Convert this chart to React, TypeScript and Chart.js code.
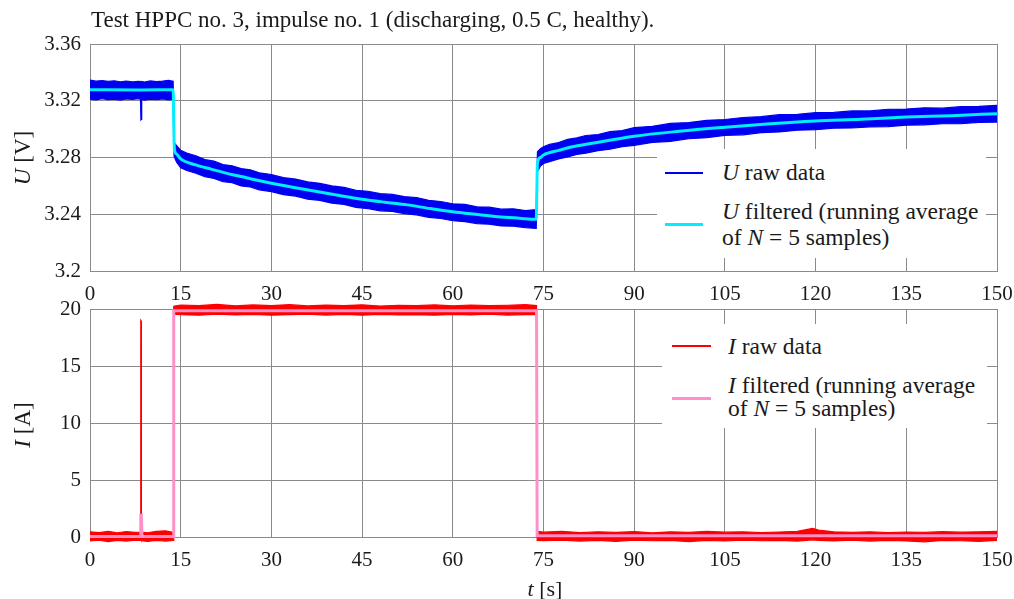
import React, { useEffect, useRef } from "react";
import { Chart, registerables } from "chart.js";

Chart.register(...registerables);

const FONT = "'Liberation Serif', 'Times New Roman', serif";
const TEXT_COLOR = "#1a1a1a";
const GRID_COLOR = "#8a8a8a";

const titleText = "Test HPPC no. 3, impulse no. 1 (discharging, 0.5 C, healthy).";

// shared time axis
const xTicks = [0, 15, 30, 45, 60, 75, 90, 105, 120, 135, 150];

// ---------- voltage (top) ----------
const uTicks = [3.2, 3.24, 3.28, 3.32, 3.36];
const uTickLabels = ["3.2", "3.24", "3.28", "3.32", "3.36"];

// raw voltage: upper / lower edge of the noisy band
const uRawT = [
  0, 1, 2, 3, 4, 5, 6, 7, 8, 8.35, 8.42, 8.48, 8.55, 9, 10, 11, 12, 13, 13.75,
  13.9, 14.3, 15, 16, 17.5, 19, 20.5, 22, 23.5, 25, 26.5, 28, 30, 32, 34, 36, 38, 40, 42, 44, 46, 48, 50, 52, 54, 56, 58, 60, 62, 64, 66, 68, 70, 72, 73.8,
  74.0, 74.5, 75, 76, 77.5, 79, 80.5, 82, 84, 86, 88, 90, 93, 96, 99, 102, 105, 108, 111, 114, 117, 120, 123, 126, 129, 132, 135, 138, 141, 144, 147, 150,
];
const uRawUpper = [
  3.3345, 3.3338, 3.3342, 3.3336, 3.3341, 3.3334, 3.3339, 3.3333, 3.3337, 3.3335, 3.333, 3.3331, 3.3336, 3.3332, 3.334, 3.3335, 3.3338, 3.3343, 3.3337,
  3.2905, 3.2885, 3.285, 3.2832, 3.2812, 3.2786, 3.2774, 3.275, 3.2742, 3.2722, 3.2713, 3.2692, 3.268, 3.2658, 3.2648, 3.2628, 3.2618, 3.26, 3.259, 3.2568, 3.2562, 3.2545, 3.254, 3.2524, 3.2518, 3.2498, 3.249, 3.2474, 3.247, 3.2452, 3.245, 3.2436, 3.2438, 3.2426, 3.2432,
  3.284, 3.2862, 3.2876, 3.2892, 3.2906, 3.2928, 3.2938, 3.2955, 3.2962, 3.2982, 3.299, 3.301, 3.302, 3.304, 3.3046, 3.3062, 3.3068, 3.3082, 3.3088, 3.3102, 3.3104, 3.3116, 3.3118, 3.3128, 3.3128, 3.314, 3.3142, 3.315, 3.3148, 3.3158, 3.316, 3.3168,
];
const uRawLower = [
  3.3212, 3.3206, 3.3214, 3.3208, 3.3211, 3.3205, 3.3213, 3.3209, 3.3214, 3.321, 3.3065, 3.3068, 3.321, 3.3204, 3.3212, 3.3207, 3.3213, 3.3206, 3.321,
  3.281, 3.2768, 3.2728, 3.2708, 3.269, 3.2664, 3.2652, 3.263, 3.2622, 3.26, 3.2592, 3.2572, 3.256, 3.2538, 3.2528, 3.2506, 3.2498, 3.2478, 3.247, 3.2448, 3.244, 3.2424, 3.242, 3.2404, 3.2396, 3.2378, 3.237, 3.2354, 3.2348, 3.2334, 3.233, 3.2318, 3.2316, 3.2306, 3.23,
  3.27, 3.274, 3.2758, 3.277, 3.279, 3.2804, 3.2822, 3.283, 3.2848, 3.2858, 3.2876, 3.2886, 3.2906, 3.2914, 3.2932, 3.294, 3.2956, 3.296, 3.2976, 3.298, 3.2992, 3.2996, 3.3006, 3.3008, 3.3016, 3.3018, 3.3028, 3.303, 3.3038, 3.3038, 3.3048, 3.305,
];

// filtered voltage (running average, N = 5)
const uFiltT = [
  0, 8.4, 13.75, 13.85, 13.95, 14.3, 15, 17.5, 20, 22.5, 25, 27.5, 30, 33.75, 37.5, 41.25, 45, 48.75, 52.5, 56.25,
  60, 63.75, 67.5, 71, 73.8, 73.9, 74.0, 74.5, 75, 77.5, 80, 85, 90, 97.5, 105, 112.5, 120, 127.5, 135, 142.5, 150,
];
const uFiltV = [
  3.3278, 3.3276, 3.3278, 3.305, 3.286, 3.2825, 3.279, 3.2748, 3.2718, 3.269, 3.2666, 3.2641, 3.2619, 3.2589, 3.256, 3.2532, 3.2506, 3.2485, 3.2466, 3.244,
  3.2418, 3.24, 3.2383, 3.2372, 3.2364, 3.256, 3.276, 3.28, 3.2818, 3.285, 3.2878, 3.2914, 3.295, 3.2985, 3.3013, 3.3038, 3.3057, 3.3069, 3.3085, 3.3095, 3.3109,
];

// ---------- current (bottom) ----------
const iTicks = [0, 5, 10, 15, 20];
const iTickLabels = ["0", "5", "10", "15", "20"];

const iRawT = [
  0, 1.5, 3, 4.5, 6, 7.5, 8.35, 8.4, 8.46, 8.5, 9.5, 11, 12.5, 13.75,
  13.85, 15, 18, 21, 24, 27, 30, 33, 36, 39, 42, 45, 48, 51, 54, 57, 60, 63, 66, 69, 72, 73.85,
  73.95, 75, 78, 81, 84, 87, 90, 93, 96, 99, 102, 105, 108, 111, 114, 117, 119.5, 120.5, 123, 126, 129, 132, 135, 138, 141, 144, 147, 150,
];
const iRawUpper = [
  0.45, 0.38, 0.5, 0.36, 0.48, 0.4, 0.42, 19.0, 18.95, 0.44, 0.37, 0.5, 0.55, 0.4,
  20.25, 20.35, 20.3, 20.4, 20.28, 20.36, 20.3, 20.38, 20.27, 20.34, 20.3, 20.37, 20.26, 20.33, 20.3, 20.36, 20.28, 20.35, 20.3, 20.33, 20.38, 20.3,
  0.5, 0.42, 0.5, 0.38, 0.46, 0.4, 0.48, 0.37, 0.45, 0.4, 0.5, 0.42, 0.46, 0.38, 0.44, 0.5, 0.75, 0.6, 0.45, 0.4, 0.46, 0.38, 0.44, 0.4, 0.47, 0.42, 0.45, 0.5,
];
const iRawLower = [
  -0.35, -0.28, -0.4, -0.3, -0.36, -0.27, -0.3, -0.3, -0.3, -0.33, -0.38, -0.3, -0.36, -0.3,
  19.55, 19.5, 19.45, 19.55, 19.48, 19.52, 19.45, 19.5, 19.55, 19.47, 19.52, 19.46, 19.53, 19.48, 19.5, 19.45, 19.52, 19.48, 19.55, 19.47, 19.5, 19.5,
  -0.3, -0.32, -0.28, -0.36, -0.3, -0.38, -0.28, -0.33, -0.3, -0.4, -0.3, -0.35, -0.28, -0.33, -0.3, -0.36, -0.25, -0.3, -0.34, -0.28, -0.36, -0.3, -0.35, -0.42, -0.3, -0.33, -0.38, -0.3,
];

const iFiltT = [0, 8.3, 8.4, 8.5, 8.6, 13.75, 13.85, 30, 60, 73.85, 73.95, 100, 150];
const iFiltV = [0.05, 0.05, 1.9, 1.9, 0.05, 0.05, 19.85, 19.85, 19.85, 19.85, 0.1, 0.1, 0.1];

const COLORS = {
  uRaw: "#0000f0",
  uFilt: "#00eeff",
  iRaw: "#ff0000",
  iFilt: "#ff8fc8",
};

const pts = (t: number[], v: number[]) => t.map((x, k) => ({ x, y: v[k] }));

// fills the region between dataset 0 (upper edge) and dataset 1 (lower edge), no clipping
const bandPlugin = {
  id: "rawBand",
  beforeDatasetsDraw(chart: any) {
    const up = chart.getDatasetMeta(0).data;
    const lo = chart.getDatasetMeta(1).data;
    if (!up.length || !lo.length) return;
    const ctx = chart.ctx;
    ctx.save();
    ctx.beginPath();
    up.forEach((p: any, k: number) => (k ? ctx.lineTo(p.x, p.y) : ctx.moveTo(p.x, p.y)));
    for (let k = lo.length - 1; k >= 0; k--) ctx.lineTo(lo[k].x, lo[k].y);
    ctx.closePath();
    ctx.fillStyle = chart.data.datasets[0].backgroundColor;
    ctx.fill();
    ctx.restore();
  },
};

function buildConfig(opts: {
  rawT: number[];
  rawUp: number[];
  rawLo: number[];
  filtT: number[];
  filtV: number[];
  rawColor: string;
  filtColor: string;
  yMin: number;
  yMax: number;
  yTicks: number[];
  yLabels: string[];
  padTop: number;
  xHeight: number;
  monotone: boolean;
}): any {
  const tickFont = { family: FONT, size: 21 };
  return {
    type: "line",
    data: {
      datasets: [
        {
          data: pts(opts.rawT, opts.rawUp),
          borderColor: opts.rawColor,
          backgroundColor: opts.rawColor,
          borderWidth: 1.2,
          pointRadius: 0,
          fill: false,
          tension: 0,
          order: 2,
          clip: false,
        },
        {
          data: pts(opts.rawT, opts.rawLo),
          borderColor: opts.rawColor,
          backgroundColor: opts.rawColor,
          borderWidth: 1.2,
          pointRadius: 0,
          fill: false,
          tension: 0,
          order: 2,
          clip: false,
        },
        {
          data: pts(opts.filtT, opts.filtV),
          borderColor: opts.filtColor,
          borderWidth: 3,
          pointRadius: 0,
          fill: false,
          cubicInterpolationMode: opts.monotone ? "monotone" : "default",
          tension: 0,
          order: 0,
          clip: false,
        },
      ],
    },
    plugins: [bandPlugin],
    options: {
      animation: false,
      responsive: false,
      events: [],
      layout: { padding: { left: 0, right: 17, top: opts.padTop, bottom: 0 } },
      plugins: { legend: { display: false }, tooltip: { enabled: false }, title: { display: false } },
      scales: {
        x: {
          type: "linear",
          min: 0,
          max: 150,
          afterBuildTicks: (s: any) => {
            s.ticks = xTicks.map((v) => ({ value: v }));
          },
          afterFit: (s: any) => {
            s.height = opts.xHeight;
            s.paddingLeft = 0;
            s.paddingRight = 0;
          },
          grid: { color: GRID_COLOR, lineWidth: 1, drawTicks: false },
          border: { color: GRID_COLOR, width: 1 },
          ticks: {
            font: tickFont,
            color: TEXT_COLOR,
            padding: 11,
            maxRotation: 0,
            autoSkip: false,
            callback: (v: number) => String(v),
          },
        },
        y: {
          type: "linear",
          min: opts.yMin,
          max: opts.yMax,
          afterBuildTicks: (s: any) => {
            s.ticks = opts.yTicks.map((v) => ({ value: v }));
          },
          afterFit: (s: any) => {
            s.width = 90;
            s.paddingTop = 0;
            s.paddingBottom = 0;
          },
          grid: { color: GRID_COLOR, lineWidth: 1, drawTicks: false },
          border: { color: GRID_COLOR, width: 1 },
          ticks: {
            font: tickFont,
            color: TEXT_COLOR,
            padding: 9,
            autoSkip: false,
            callback: (_v: number, i: number) => opts.yLabels[i],
          },
        },
      },
    },
  };
}

function ChartCanvas(props: { config: any; top: number; height: number }) {
  const ref = useRef<HTMLCanvasElement | null>(null);
  useEffect(() => {
    if (!ref.current) return;
    const chart = new Chart(ref.current, props.config);
    return () => chart.destroy();
  }, []);
  return (
    <canvas
      ref={ref}
      width={1014}
      height={props.height}
      style={{ position: "absolute", left: 0, top: props.top, width: 1014, height: props.height }}
    />
  );
}

const txt: React.CSSProperties = {
  position: "absolute",
  fontFamily: FONT,
  fontSize: 23.5,
  lineHeight: "25px",
  color: TEXT_COLOR,
  whiteSpace: "nowrap",
};

function Swatch(p: { left: number; top: number; width: number; color: string; h: number }) {
  return (
    <div
      style={{
        position: "absolute",
        left: p.left,
        top: p.top - p.h / 2,
        width: p.width,
        height: p.h,
        background: p.color,
      }}
    />
  );
}

export default function App() {
  const topCfg = buildConfig({
    rawT: uRawT,
    rawUp: uRawUpper,
    rawLo: uRawLower,
    filtT: uFiltT,
    filtV: uFiltV,
    rawColor: COLORS.uRaw,
    filtColor: COLORS.uFilt,
    yMin: 3.2,
    yMax: 3.36,
    yTicks: uTicks,
    yLabels: uTickLabels,
    padTop: 44,
    xHeight: 310 - 271,
    monotone: true,
  });
  const botCfg = buildConfig({
    rawT: iRawT,
    rawUp: iRawUpper,
    rawLo: iRawLower,
    filtT: iFiltT,
    filtV: iFiltV,
    rawColor: COLORS.iRaw,
    filtColor: COLORS.iFilt,
    yMin: 0,
    yMax: 20,
    yTicks: iTicks,
    yLabels: iTickLabels,
    padTop: 19,
    xHeight: 62,
    monotone: false,
  });

  return (
    <div
      style={{
        position: "fixed",
        left: 0,
        top: 0,
        width: 1014,
        height: 599,
        background: "#ffffff",
        overflow: "hidden",
      }}
    >
      <ChartCanvas config={topCfg} top={0} height={310} />
      <ChartCanvas config={botCfg} top={290} height={309} />

      <div style={{ ...txt, fontSize: 23, left: 91, top: 7 }}>{titleText}</div>

      <div
        style={{
          ...txt,
          fontSize: 23,
          left: 22,
          top: 158,
          transform: "translate(-50%, -50%) rotate(-90deg)",
        }}
      >
        <i>U</i> [V]
      </div>
      <div
        style={{
          ...txt,
          fontSize: 23,
          left: 22,
          top: 425,
          transform: "translate(-50%, -50%) rotate(-90deg)",
        }}
      >
        <i>I</i> [A]
      </div>
      <div style={{ ...txt, fontSize: 22, left: 545, top: 576, transform: "translateX(-50%)" }}>
        <i>t</i> [s]
      </div>

      {/* top legend */}
      <div style={{ position: "absolute", left: 657, top: 149, width: 329, height: 109, background: "#fff" }}>
        <Swatch left={8} top={23.5} width={38} color={COLORS.uRaw} h={2} />
        <div style={{ ...txt, left: 65, top: 11.3 }}>
          <i>U</i> raw data
        </div>
        <Swatch left={8} top={75} width={38} color={COLORS.uFilt} h={3} />
        <div style={{ ...txt, left: 65, top: 49.9 }}>
          <i>U</i> filtered (running average
        </div>
        <div style={{ ...txt, left: 65, top: 75.6 }}>
          of <i>N</i> = 5 samples)
        </div>
      </div>

      {/* bottom legend */}
      <div style={{ position: "absolute", left: 662, top: 324, width: 325, height: 104, background: "#fff" }}>
        <Swatch left={10} top={22} width={39} color={COLORS.iRaw} h={2} />
        <div style={{ ...txt, left: 66, top: 9.9 }}>
          <i>I</i> raw data
        </div>
        <Swatch left={10} top={74.3} width={39} color={COLORS.iFilt} h={3} />
        <div style={{ ...txt, left: 66, top: 48.9 }}>
          <i>I</i> filtered (running average
        </div>
        <div style={{ ...txt, left: 66, top: 72.3 }}>
          of <i>N</i> = 5 samples)
        </div>
      </div>
    </div>
  );
}
